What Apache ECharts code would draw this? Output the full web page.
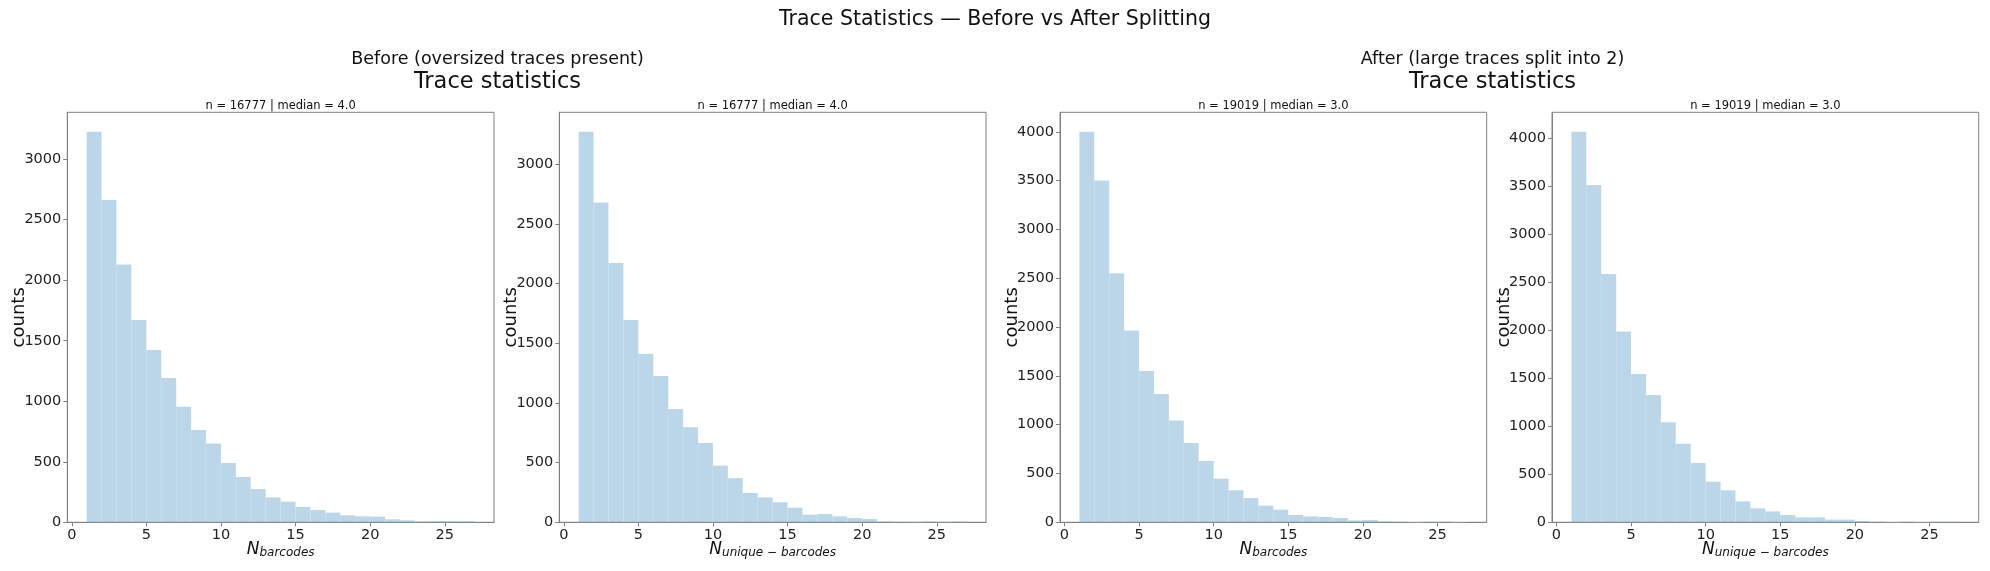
<!DOCTYPE html>
<html>
<head>
<meta charset="utf-8">
<script src="https://cdn.jsdelivr.net/npm/echarts@6.0.0/dist/echarts.min.js"></script>
<style>
  html, body { margin: 0; padding: 0; background: #fff; }
  #chart { width: 1990px; height: 571px; }
</style>
</head>
<body>
<div id="chart"></div>
<script>
// histogram bins (width 1, from 1 to 27)
var binLo = [1, 2, 3, 4, 5, 6, 7, 8, 9, 10, 11, 12, 13, 14, 15, 16, 17, 18, 19, 20, 21, 22, 23, 24, 25, 26];
var binHi = [2, 3, 4, 5, 6, 7, 8, 9, 10, 11, 12, 13, 14, 15, 16, 17, 18, 19, 20, 21, 22, 23, 24, 25, 26, 27];

// counts per bin
var beforeBarcodes = [3226, 2662, 2130, 1671, 1423, 1192, 955, 762, 650, 490, 374, 275, 206, 171, 127, 102, 80, 58, 50, 47, 25, 17, 8, 10, 10, 10];
var beforeUnique   = [3273, 2681, 2173, 1695, 1413, 1226, 950, 796, 665, 475, 371, 246, 209, 168, 123, 64, 70, 50, 36, 28, 8, 6, 5, 8, 5, 8];
var afterBarcodes  = [4000, 3502, 2550, 1966, 1550, 1314, 1044, 812, 628, 447, 328, 249, 171, 130, 75, 61, 55, 44, 20, 24, 10, 7, 3, 7, 7, 3];
var afterUnique    = [4062, 3508, 2582, 1986, 1542, 1324, 1040, 818, 617, 423, 333, 218, 146, 114, 76, 52, 52, 28, 28, 14, 7, 3, 7, 3, 7, 7];

var xTicks = [0, 5, 10, 15, 20, 25];
var yTicks34 = [0, 500, 1000, 1500, 2000, 2500, 3000];
var yTicks40 = [0, 500, 1000, 1500, 2000, 2500, 3000, 3500, 4000];

var panelSeries = [beforeBarcodes, beforeUnique, afterBarcodes, afterUnique];
var panelYTicks = [yTicks34, yTicks34, yTicks40, yTicks40];
var panelXName = ['barcodes', 'unique − barcodes', 'barcodes', 'unique − barcodes'];
var panelNote = ['n = 16777 | median = 4.0', 'n = 16777 | median = 4.0', 'n = 19019 | median = 3.0', 'n = 19019 | median = 3.0'];

var gridLeft = [67.3, 559.3, 1060, 1552];
var gridW = 426.7, gridTop = 112.3, gridH = 410;

var font = '"DejaVu Sans", sans-serif';
var spine = '#808080';

var grids = [], xAxes = [], yAxes = [], series = [], graphics = [];

function plain(v) { return String(v); }

for (var i = 0; i < 4; i++) {
  var vals = panelSeries[i];
  grids.push({
    left: gridLeft[i], top: gridTop, width: gridW, height: gridH,
    show: true, borderColor: spine, borderWidth: 1, containLabel: false
  });
  xAxes.push({
    type: 'value', gridIndex: i, min: -0.3, max: 28.3,
    splitLine: { show: false },
    axisLine: { show: true, onZero: false, lineStyle: { color: spine } },
    axisTick: { show: true, length: 4, lineStyle: { color: spine }, customValues: xTicks },
    axisLabel: { color: '#222', fontSize: 14.5, fontFamily: font, margin: 5, customValues: xTicks, formatter: plain },
    name: '{n|N}{s|' + panelXName[i] + '}',
    nameLocation: 'middle', nameGap: 17, nameMoveOverlap: false,
    nameTextStyle: {
      rich: {
        n: { fontSize: 17, fontStyle: 'italic', fontFamily: font, color: '#111', lineHeight: 20 },
        s: { fontSize: 12, fontStyle: 'italic', fontFamily: font, color: '#111', lineHeight: 12, verticalAlign: 'bottom' }
      }
    }
  });
  yAxes.push({
    type: 'value', gridIndex: i, min: 0, max: Math.max.apply(null, vals) * 1.05,
    splitLine: { show: false },
    axisLine: { show: true, onZero: false, lineStyle: { color: spine } },
    axisTick: { show: true, length: 4, lineStyle: { color: spine }, customValues: panelYTicks[i] },
    axisLabel: { color: '#222', fontSize: 14.5, fontFamily: font, margin: 6, customValues: panelYTicks[i], formatter: plain },
    name: 'counts', nameLocation: 'middle', nameGap: 39, nameRotate: 90, nameMoveOverlap: false,
    nameTextStyle: { fontSize: 18, fontFamily: font, color: '#111' }
  });
  var rows = [];
  for (var k = 0; k < vals.length; k++) rows.push([binLo[k], binHi[k], vals[k]]);
  series.push({
    type: 'custom', xAxisIndex: i, yAxisIndex: i, data: rows,
    encode: { x: [0, 1], y: 2 },
    renderItem: function (params, api) {
      var a = api.coord([api.value(0), 0]);
      var b = api.coord([api.value(1), api.value(2)]);
      return {
        type: 'rect',
        shape: { x: a[0], y: b[1], width: b[0] - a[0], height: a[1] - b[1] },
        style: { fill: 'rgba(31,119,180,0.3)', stroke: 'rgba(255,255,255,0.25)', lineWidth: 0.5 }
      };
    }
  });
  graphics.push({
    type: 'text', x: gridLeft[i] + gridW / 2, y: 106,
    style: { text: panelNote[i], font: '11.5px ' + font, fill: '#111', align: 'center', verticalAlign: 'middle' }
  });
}

function heading(txt, x, y, size) {
  return { type: 'text', x: x, y: y,
    style: { text: txt, font: size + 'px ' + font, fill: '#111', align: 'center', verticalAlign: 'middle' } };
}
graphics.push(heading('Trace Statistics — Before vs After Splitting', 995, 19.5, 20.5));
graphics.push(heading('Before (oversized traces present)', 497.5, 59.5, 17.5));
graphics.push(heading('After (large traces split into 2)', 1492.5, 59.5, 17.5));
graphics.push(heading('Trace statistics', 497.5, 82.5, 22.5));
graphics.push(heading('Trace statistics', 1492.5, 82.5, 22.5));

var chart = echarts.init(document.getElementById('chart'), null, { renderer: 'canvas' });
chart.setOption({
  backgroundColor: '#fff',
  animation: false,
  textStyle: { fontFamily: font },
  grid: grids,
  xAxis: xAxes,
  yAxis: yAxes,
  series: series,
  graphic: graphics
});
</script>
</body>
</html>
